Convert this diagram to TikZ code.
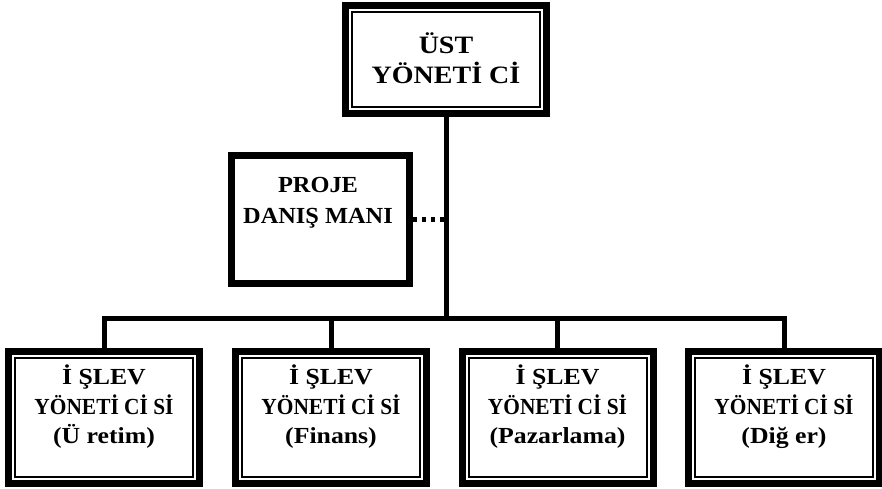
\documentclass[tikz,border=0pt]{standalone}
\usepackage{fontspec}
\usepackage{graphicx}
\setmainfont{Liberation Serif}
% horizontally widened / narrowed lines of lettering
\newcommand\wideline[1]{\scalebox{1.12}[1]{#1}}
\newcommand\narrowline[1]{\scalebox{0.93}[1]{#1}}
\newcommand\advline[1]{\scalebox{1.06}[1]{#1}}
\begin{document}
\begin{tikzpicture}[x=1pt,y=-1pt,
  frame/.style={draw, line width=7pt, inner sep=0pt},
  bossbox/.style={frame, minimum width=201pt, minimum height=108pt},
  advbox/.style={frame, minimum width=178pt, minimum height=128pt},
  unitbox/.style={frame, minimum width=191pt, minimum height=132pt},
  caption/.style={font=\bfseries\fontsize{23}{29.5}\selectfont, align=center, inner sep=0pt},
  bigcaption/.style={caption, font=\bfseries\fontsize{25}{30}\selectfont},
  advcaption/.style={caption, font=\bfseries\fontsize{23}{31}\selectfont},
  innerline/.style={line width=2pt},
  link/.style={line width=5pt, line join=miter},
  dotlink/.style={line width=4.5pt, dash pattern=on 4pt off 5pt}
]
\useasboundingbox[fill=white] (0,0) rectangle (882,489);

% top manager
\node[bossbox] (top) at (446,59.5) {};
\node[bigcaption] (toptxt) at (446,58) {\wideline{ÜST}\\\wideline{YÖNETİ Cİ}};

% project consultant
\node[advbox] (adv) at (320.5,219.5) {};
\node[advcaption] (advtxt) at (318,203) {\advline{PROJE}\\\advline{DANIŞ MANI}};

% functional managers
\node[unitbox] (u1) at (104,417.5) {};
\node[unitbox] (u2) at (331,417.5) {};
\node[unitbox] (u3) at (557.5,417.5) {};
\node[unitbox] (u4) at (784,417.5) {};
\node[caption] (t1) at (104,407) {\wideline{İ ŞLEV}\\\narrowline{YÖNETİ Cİ Sİ}\\\wideline{(Ü retim)}};
\node[caption] (t2) at (331,407) {\wideline{İ ŞLEV}\\\narrowline{YÖNETİ Cİ Sİ}\\\wideline{(Finans)}};
\node[caption] (t3) at (557.5,407) {\wideline{İ ŞLEV}\\\narrowline{YÖNETİ Cİ Sİ}\\\wideline{(Pazarlama)}};
\node[caption] (t4) at (784,407) {\wideline{İ ŞLEV}\\\narrowline{YÖNETİ Cİ Sİ}\\\wideline{(Diğ er)}};

% thin inner frames of the double-bordered boxes (anchors lie on the outer edge)
\foreach \n in {top,u1,u2,u3,u4}
  \draw[innerline] ([shift={(10pt,-10pt)}]\n.north west) rectangle ([shift={(-10pt,10pt)}]\n.south east);

% connectors
\coordinate (bar) at (446,318);
\draw[link] (top.south) -- (bar);
\draw[link] (u1.north) -- (u1.north |- bar) -- (u4.north |- bar) -- (u4.north);
\draw[link] (u2.north) -- (u2.north |- bar);
\draw[link] (u3.north) -- (u3.north |- bar);
\draw[dotlink] (adv.east) -- (adv.east -| top.south);
\end{tikzpicture}
\end{document}
